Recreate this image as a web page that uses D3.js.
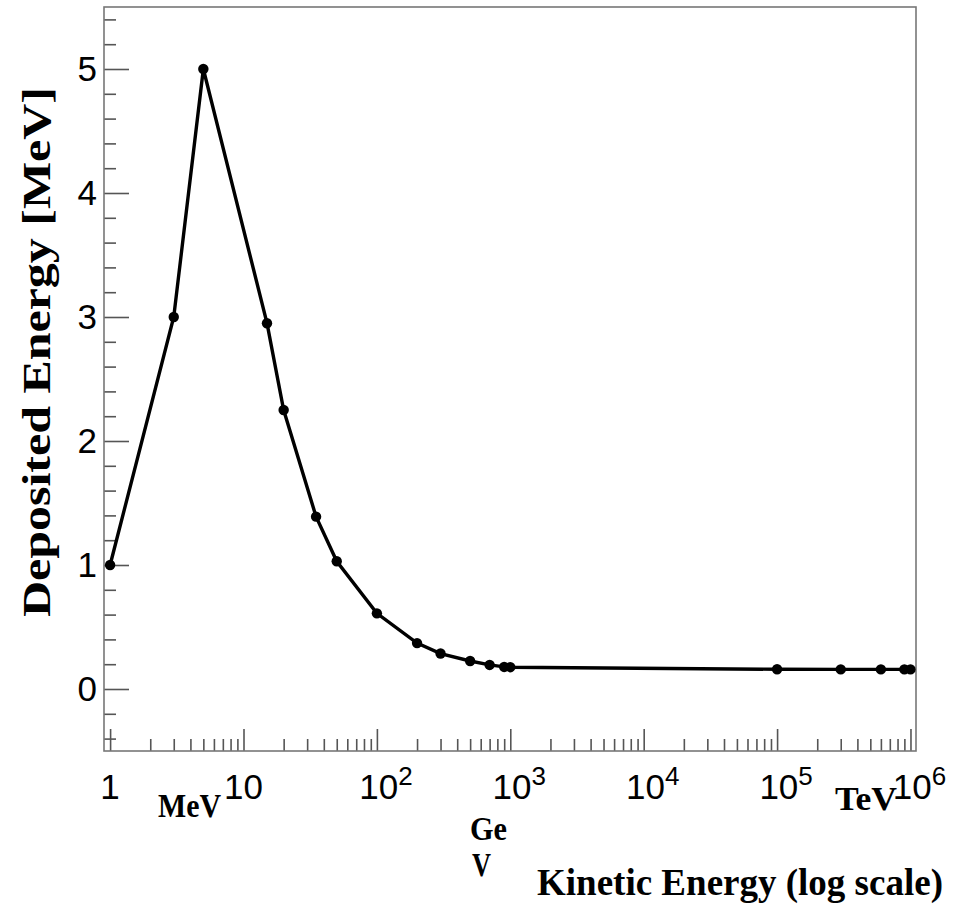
<!DOCTYPE html>
<html>
<head>
<meta charset="utf-8">
<script src="https://cdn.jsdelivr.net/npm/d3@7"></script>
<style>
  body { margin: 0; background: #fff; }
  svg { display: block; }
</style>
</head>
<body>
<div id="chart"></div>
<script>
// kinetic energy (MeV) and deposited energy (MeV)
var energy    = [1, 3, 5, 15, 20, 35, 50, 100, 200, 300, 500, 700, 900, 1000, 1e5, 3e5, 6e5, 9e5, 1e6];
var deposited = [1, 3, 5, 2.95, 2.25, 1.39, 1.03, 0.61, 0.37, 0.286, 0.226, 0.194, 0.178, 0.176, 0.159, 0.158, 0.158, 0.158, 0.158];

var xMajor = [1, 10, 100, 1000, 10000, 100000, 1000000];
var xLabels = [["1", ""], ["10", ""], ["10", "2"], ["10", "3"], ["10", "4"], ["10", "5"], ["10", "6"]];
var yMajor = [0, 1, 2, 3, 4, 5];
var unitLabels = [
  { t: "MeV", x: 158, y: 817, len: 63 },
  { t: "Ge", x: 470, y: 840, len: 37 },
  { t: "V", x: 472, y: 876, len: 19 },
  { t: "TeV", x: 835, y: 810, len: 62 }
];

function drawChart() {
  var w = 960, h = 915;
  var mLeft = 104, mRight = 916, mTop = 7, mBottom = 751;

  var svg = d3.select("#chart").append("svg")
    .attr("width", w)
    .attr("height", h);

  var x = d3.scaleLog().domain([0.9, 1.1e6]).range([mLeft, mRight]);
  var y = d3.scaleLinear().domain([-0.5, 5.5]).range([mBottom, mTop]);

  // minor ticks: 2..9 of every decade, 0.2 steps on y
  var xMinor = [];
  for (var k = 0; k < 6; k++) {
    for (var m = 2; m < 10; m++) xMinor.push(m * Math.pow(10, k));
  }
  var yMinor = d3.range(-2, 28).map(d => d / 5).filter(d => Math.abs(d - Math.round(d)) > 1e-6);

  var tickColor = "#555";

  // x ticks (inward)
  var gx = svg.append("g").attr("transform", "translate(0," + mBottom + ")");
  gx.append("g").call(d3.axisBottom(x).tickValues(xMinor).tickSize(-12).tickFormat(""));
  gx.append("g").call(d3.axisBottom(x).tickValues(xMajor).tickSize(-22).tickFormat(""));
  gx.selectAll("path").remove();
  gx.selectAll("line").attr("stroke", tickColor).attr("stroke-width", 1.6);

  // y ticks (inward)
  var gy = svg.append("g").attr("transform", "translate(" + mLeft + ",0)");
  gy.append("g").call(d3.axisLeft(y).tickValues(yMinor).tickSize(-12).tickFormat(""));
  gy.append("g").call(d3.axisLeft(y).tickValues(yMajor).tickSize(-25).tickFormat(""));
  gy.selectAll("path").remove();
  gy.selectAll("line").attr("stroke", tickColor).attr("stroke-width", 1.6);

  // frame
  svg.append("rect")
    .attr("x", mLeft).attr("y", mTop)
    .attr("width", mRight - mLeft).attr("height", mBottom - mTop)
    .attr("fill", "none")
    .attr("stroke", "#777")
    .attr("stroke-width", 1.6);

  // tick labels
  svg.append("g").selectAll("text")
    .data(yMajor)
    .join("text")
    .attr("x", mLeft - 7)
    .attr("y", d => y(d) + 12)
    .attr("text-anchor", "end")
    .attr("font-family", "Liberation Sans, Arial, sans-serif")
    .attr("font-size", 35)
    .text(d => d);

  var xl = svg.append("g").selectAll("text")
    .data(xMajor)
    .join("text")
    .attr("x", (d, i) => x(d) + (xLabels[i][1] ? 9 : 0))
    .attr("y", 799)
    .attr("text-anchor", "middle")
    .attr("font-family", "Liberation Sans, Arial, sans-serif")
    .attr("font-size", 35);
  xl.append("tspan").text((d, i) => xLabels[i][0]);
  xl.append("tspan")
    .attr("dy", -14)
    .attr("font-size", 26)
    .text((d, i) => xLabels[i][1]);

  // curve
  var pts = energy.map((e, i) => [e, deposited[i]]);
  var line = d3.line().x(d => x(d[0])).y(d => y(d[1]));

  svg.append("path")
    .datum(pts)
    .attr("d", line)
    .attr("fill", "none")
    .attr("stroke", "#000")
    .attr("stroke-width", 3.4);

  svg.append("g").selectAll("circle")
    .data(pts)
    .join("circle")
    .attr("cx", d => x(d[0]))
    .attr("cy", d => y(d[1]))
    .attr("r", 5.2)
    .attr("fill", "#000");

  // unit annotations
  svg.append("g").selectAll("text")
    .data(unitLabels)
    .join("text")
    .attr("x", d => d.x)
    .attr("y", d => d.y)
    .attr("font-family", "Liberation Serif, Times New Roman, serif")
    .attr("font-weight", "bold")
    .attr("font-size", 34)
    .attr("textLength", d => d.len)
    .attr("lengthAdjust", "spacingAndGlyphs")
    .text(d => d.t);

  // axis titles
  svg.append("text")
    .attr("x", 943)
    .attr("y", 895)
    .attr("text-anchor", "end")
    .attr("font-family", "Liberation Serif, Times New Roman, serif")
    .attr("font-weight", "bold")
    .attr("font-size", 38)
    .attr("textLength", 406)
    .attr("lengthAdjust", "spacingAndGlyphs")
    .text("Kinetic Energy (log scale)");

  svg.append("text")
    .attr("transform", "translate(50,352) rotate(-90)")
    .attr("text-anchor", "middle")
    .attr("font-family", "Liberation Serif, Times New Roman, serif")
    .attr("font-weight", "bold")
    .attr("font-size", 39)
    .attr("textLength", 530)
    .attr("lengthAdjust", "spacingAndGlyphs")
    .text("Deposited Energy [MeV]");
}

drawChart();
</script>
</body>
</html>
